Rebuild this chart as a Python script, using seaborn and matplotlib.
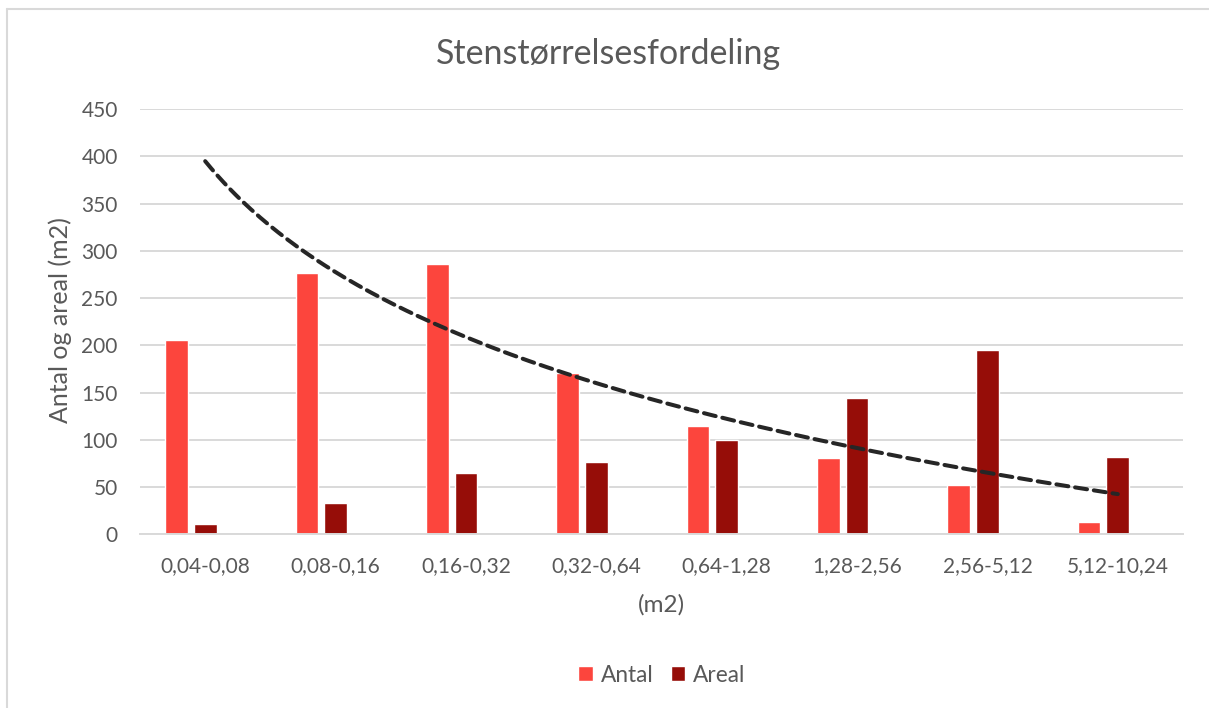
import numpy as np
import pandas as pd
import matplotlib
matplotlib.use("Agg")
import matplotlib.pyplot as plt
import seaborn as sns
from matplotlib.patches import Patch
from matplotlib.lines import Line2D

# Stone size classes (m2)
categories = ["0,04-0,08", "0,08-0,16", "0,16-0,32", "0,32-0,64",
              "0,64-1,28", "1,28-2,56", "2,56-5,12", "5,12-10,24"]
antal = [206, 277, 286, 171, 115, 81, 52, 13]
areal = [11, 33, 65, 76, 100, 144, 195, 82]
# values of the trend series at each size class
trend = [395, 277, 209, 160, 122, 91, 65, 43]
y_ticks = [0, 50, 100, 150, 200, 250, 300, 350, 400, 450]

series_names = ["Antal", "Areal", "Trend"]
colors = {"Antal": "#FC453D", "Areal": "#960D08", "Trend": "#FFFFFF"}
text_color = "#595959"
grid_color = "#D9D9D9"

sns.set_theme(style="white")
plt.rcParams["font.family"] = ["Lato", "DejaVu Sans"]

df = pd.DataFrame({
    "Størrelse": categories * 2,
    "Serie": ["Antal"] * len(antal) + ["Areal"] * len(areal),
    "Værdi": antal + areal,
})

W, H = 1209, 708
fig = plt.figure(figsize=(W / 100, H / 100), dpi=100)
ax = fig.add_axes([140 / W, 1 - 534.3 / H, 1043 / W, 425.3 / H])

sns.barplot(data=df, x="Størrelse", y="Værdi", hue="Serie",
            hue_order=series_names, palette=colors, order=categories,
            width=0.66, gap=0.21, saturation=1, errorbar=None,
            legend=False, ax=ax)

# logarithmic trendline
r = np.arange(1, len(trend) + 1)
coef = np.polyfit(np.log(r), trend, 1)
xs = np.linspace(1, len(trend), 300)
ax.plot(xs - 1, coef[0] * np.log(xs) + coef[1], color="#262626",
        lw=2.9, dashes=(3.0, 1.7), dash_capstyle="round", zorder=5)

ax.set_xlim(-0.5, len(categories) - 0.5)
ax.set_ylim(0, 450)
ax.set_yticks(y_ticks)
ax.set_yticklabels([str(v) for v in y_ticks])
ax.yaxis.grid(True, color=grid_color, lw=1.4)
ax.set_axisbelow(True)
for s in ["top", "right", "left"]:
    ax.spines[s].set_visible(False)
ax.spines["bottom"].set_color(grid_color)
ax.spines["bottom"].set_linewidth(1.4)
ax.tick_params(axis="both", length=0, labelsize=15, labelcolor=text_color)
ax.tick_params(axis="x", pad=16)
ax.tick_params(axis="y", pad=16)
ax.set_xlabel("")
ax.set_ylabel("")

fig.text(608 / W, 1 - 54 / H, "Stenstørrelsesfordeling", ha="center",
         va="center", fontsize=24.5, color=text_color)
fig.text(661 / W, 1 - 605 / H, "(m2)", ha="center", va="center",
         fontsize=17.5, color=text_color)
fig.text(60 / W, 1 - 320 / H, "Antal og areal (m2)", ha="center",
         va="center", rotation=90, fontsize=18, color=text_color)

handles = [Patch(facecolor=colors["Antal"], label="Antal"),
           Patch(facecolor=colors["Areal"], label="Areal")]
fig.legend(handles=handles, loc="center", bbox_to_anchor=(662 / W, 1 - 675 / H),
           ncol=2, frameon=False, fontsize=16.3, labelcolor=text_color,
           handlelength=0.65, handleheight=0.65, handletextpad=0.35,
           columnspacing=0.75)

# chart frame
fig.add_artist(Line2D([7 / W, 7 / W], [0, 1 - 9 / H], transform=fig.transFigure,
                      color=grid_color, lw=1.5))
fig.add_artist(Line2D([7 / W, 1], [1 - 9 / H, 1 - 9 / H], transform=fig.transFigure,
                      color=grid_color, lw=1.5))

fig.savefig("out.png", dpi=100, facecolor="white")
